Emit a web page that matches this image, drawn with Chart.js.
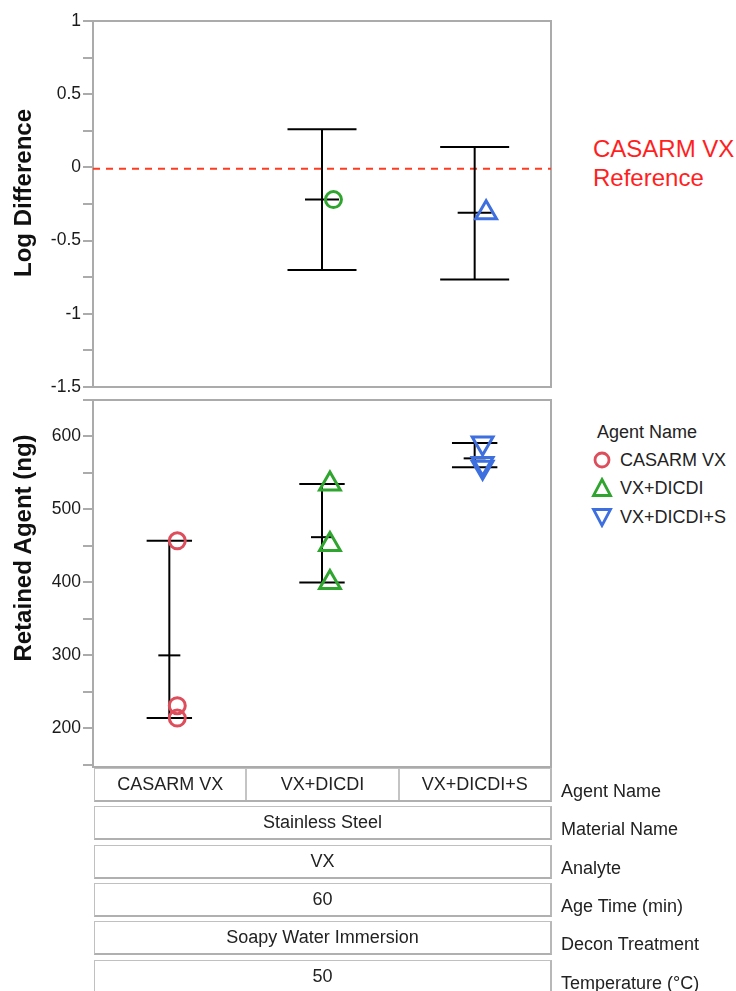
<!DOCTYPE html>
<html>
<head>
<meta charset="utf-8">
<script src="https://cdn.jsdelivr.net/npm/chart.js@4.4.1/dist/chart.umd.min.js"></script>
<style>
  body { margin: 0; background: #fff; font-family: "Liberation Sans", Arial, sans-serif; color: #222; }
  #wrap { position: relative; width: 736px; height: 991px; overflow: hidden; }
  canvas { position: absolute; left: 0; }
  #topChart { top: 0; }
  #botChart { top: 380px; }
  .ytitle { position: absolute; font-weight: bold; font-size: 24px; line-height: 28px; white-space: nowrap;
            transform: translate(-50%, -50%) rotate(-90deg); color: #111; }
  .ref { position: absolute; left: 593px; top: 134px; color: #ff1f1f; font-size: 24px; line-height: 29px; }
  .lg { position: absolute; font-size: 18px; line-height: 22px; white-space: nowrap; }
  .lgmark { position: absolute; }
  .row { position: absolute; left: 94px; width: 458px; height: 34px; box-sizing: border-box; display: flex;
         border: 1px solid #c0c0c0; border-bottom: 2px solid #b0b0b0; border-right: 2px solid #b8b8b8; }
  .cell { flex: 1; display: flex; align-items: center; justify-content: center; font-size: 18px; }
  .cell + .cell { border-left: 2px solid #c4c4c4; }
  .rlabel { position: absolute; left: 561px; font-size: 18px; line-height: 22px; white-space: nowrap; }
</style>
</head>
<body>
<div id="wrap">
  <canvas id="topChart" width="560" height="400"></canvas>
  <canvas id="botChart" width="560" height="400"></canvas>
  <div class="ytitle" style="left:23px; top:193px;">Log Difference</div>
  <div class="ytitle" style="left:23px; top:548px;">Retained Agent (ng)</div>
  <div class="ref">CASARM VX<br>Reference</div>
  <div id="legend"></div>
  <div id="table"></div>
</div>
<script>
const agents = ['CASARM VX', 'VX+DICDI', 'VX+DICDI+S'];
const agentColors = ['#dd4d5b', '#2fa52f', '#3d6fdf'];

// top panel: log difference against CASARM VX
const logMean = [null, -0.22, -0.31];
const logLow = [null, -0.70, -0.765];
const logHigh = [null, 0.26, 0.14];
const refLine = -0.01;
const logTicks = [-1.5, -1, -0.5, 0, 0.5, 1];

// bottom panel: retained agent replicates (ng)
const retCasarm = [457, 231, 214];
const retDicdi = [535, 452, 400];
const retDicdiS = [591, 563, 558];
const retMean = [300, 462, 570];
const retLow = [214, 400, 558];
const retHigh = [457, 535, 591];
const retTicks = [200, 300, 400, 500, 600];

// factor rows under the plot
const materialName = ['Stainless Steel'];
const analyte = ['VX'];
const ageTime = ['60'];
const deconTreatment = ['Soapy Water Immersion'];
const temperature = ['50'];

Chart.defaults.font.family = '"Liberation Sans", Arial, sans-serif';
Chart.defaults.color = '#222';

const frame = {
  id: 'frame',
  beforeDatasetsDraw(chart) {
    const { ctx, chartArea: a } = chart;
    ctx.save();
    ctx.strokeStyle = '#ababab';
    ctx.lineWidth = 2;
    ctx.strokeRect(a.left, a.top, a.right - a.left, a.bottom - a.top);
    ctx.restore();
  }
};

function yAxis(min, max, step, labels) {
  return {
    min: min, max: max,
    afterFit: s => { s.width = 93; },
    border: { display: true, color: '#ababab', width: 2 },
    grid: { drawOnChartArea: false, drawTicks: true, tickLength: 10, color: '#ababab', lineWidth: 2 },
    ticks: {
      stepSize: step, includeBounds: false, autoSkip: false, padding: 2, color: '#1a1a1a', font: { size: 17.5 },
      callback: v => labels.some(t => Math.abs(t - v) < 1e-9) ? String(v) : ''
    }
  };
}

const xAxis = { type: 'linear', min: -0.5, max: 2.5, display: false };

function whiskers(low, high) {
  const pts = [];
  low.forEach((lo, i) => {
    if (lo === null) return;
    pts.push({ x: i, y: lo }, { x: i, y: high[i] }, { x: i, y: null });
  });
  return { type: 'line', data: pts, showLine: true, spanGaps: false, borderColor: '#000', borderWidth: 2, pointRadius: 0 };
}

function ticksAt(values, halfWidth) {
  const pts = [];
  values.forEach((v, i) => { if (v !== null) pts.push({ x: i, y: v }); });
  return { type: 'scatter', data: pts, pointStyle: 'line', pointRadius: halfWidth,
           pointBorderWidth: 2, pointBorderColor: '#000', borderColor: '#000' };
}

function marker(points, color, style, rotation, radius) {
  return { type: 'scatter', data: points, pointStyle: style, pointRotation: rotation, pointRadius: radius,
           pointBorderWidth: 3, pointBorderColor: color, pointBackgroundColor: 'rgba(0,0,0,0)', borderColor: color };
}

// top chart
const topJitter = 0.075;
const topStyles = [null, 'circle', 'triangle'];
const topSets = [];
logMean.forEach((v, i) => {
  if (v === null) return;
  topSets.push(marker([{ x: i + topJitter, y: v }], agentColors[i], topStyles[i], 0, topStyles[i] === 'circle' ? 8 : 12));
});
topSets.push(ticksAt(logHigh, 34.5), ticksAt(logLow, 34.5), ticksAt(logMean, 17), whiskers(logLow, logHigh));
topSets.push({ type: 'line', data: [{ x: -0.5, y: refLine }, { x: 2.5, y: refLine }], borderColor: '#ff3b1f',
               borderWidth: 2, borderDash: [7, 6], pointRadius: 0 });

new Chart(document.getElementById('topChart'), {
  type: 'scatter',
  data: { datasets: topSets },
  options: {
    responsive: false, animation: false, events: [],
    layout: { autoPadding: false, padding: { top: 21, right: 9, bottom: 13, left: 0 } },
    plugins: { legend: { display: false }, tooltip: { enabled: false } },
    scales: { x: xAxis, y: yAxis(-1.5, 1, 0.25, logTicks) }
  },
  plugins: [frame]
});

// bottom chart
const botJitter = 0.052;
const retValues = [retCasarm, retDicdi, retDicdiS];
const botStyles = [['circle', 0, 8], ['triangle', 0, 12], ['triangle', 180, 12]];
const botSets = retValues.map((vals, i) =>
  marker(vals.map(v => ({ x: i + botJitter, y: v })), agentColors[i], botStyles[i][0], botStyles[i][1], botStyles[i][2]));
botSets.push(ticksAt(retHigh, 22.7), ticksAt(retLow, 22.7), ticksAt(retMean, 11), whiskers(retLow, retHigh));

new Chart(document.getElementById('botChart'), {
  type: 'scatter',
  data: { datasets: botSets },
  options: {
    responsive: false, animation: false, events: [],
    layout: { autoPadding: false, padding: { top: 20, right: 9, bottom: 13, left: 0 } },
    plugins: { legend: { display: false }, tooltip: { enabled: false } },
    scales: { x: xAxis, y: yAxis(147, 650, 50, retTicks) }
  },
  plugins: [frame]
});

// legend
const legend = document.getElementById('legend');
let html = '<div class="lg" style="left:597px; top:421px;">Agent Name</div>';
const legendShapes = [
  '<circle cx="11" cy="11" r="7" fill="none" stroke-width="2.8" stroke="COL"/>',
  '<polygon points="11,2.5 19.5,18.5 2.5,18.5" fill="none" stroke-width="2.8" stroke="COL" stroke-linejoin="miter"/>',
  '<polygon points="2.5,3.5 19.5,3.5 11,19.5" fill="none" stroke-width="2.8" stroke="COL" stroke-linejoin="miter"/>'
];
agents.forEach((a, i) => {
  const cy = 460 + i * 28.3;
  html += '<svg class="lgmark" width="22" height="22" style="left:591px; top:' + (cy - 11) + 'px;">' +
          legendShapes[i].replace('COL', agentColors[i]) + '</svg>';
  html += '<div class="lg" style="left:620px; top:' + (cy - 11) + 'px;">' + a + '</div>';
});
legend.innerHTML = html;

// factor table
const rows = [
  ['Agent Name', agents],
  ['Material Name', materialName],
  ['Analyte', analyte],
  ['Age Time (min)', ageTime],
  ['Decon Treatment', deconTreatment],
  ['Temperature (°C)', temperature]
];
let t = '';
rows.forEach((r, k) => {
  const top = 768 + k * 38.3;
  t += '<div class="row" style="top:' + top + 'px;">' + r[1].map(c => '<div class="cell">' + c + '</div>').join('') + '</div>';
  t += '<div class="rlabel" style="top:' + (top + 12) + 'px;">' + r[0] + '</div>';
});
document.getElementById('table').innerHTML = t;
</script>
</body>
</html>
